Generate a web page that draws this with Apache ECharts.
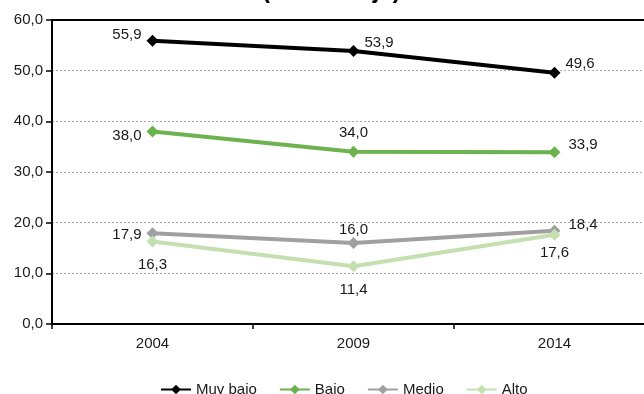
<!DOCTYPE html>
<html>
<head>
<meta charset="utf-8">
<script src="https://cdn.jsdelivr.net/npm/echarts@6/dist/echarts.min.js"></script>
<style>
  html, body { margin: 0; padding: 0; background: #fff; }
  #chart { width: 644px; height: 394px; }
</style>
</head>
<body>
<div id="chart"></div>
<script>
// Categories and series values
const years = ['2004', '2009', '2014'];
const muyBajo = [55.9, 53.9, 49.6];
const bajo = [38.0, 34.0, 33.9];
const medio = [17.9, 16.0, 18.4];
const alto = [16.3, 11.4, 17.6];
const seriesNames = ['Muy bajo', 'Bajo', 'Medio', 'Alto'];
const yTicks = { min: 0, max: 60, interval: 10 };

// Presentation: colours and where each value label sits next to its point
const seriesColors = ['#000000', '#6cb24e', '#a0a0a0', '#c4e0b0'];
const labelPlacement = [
  [['left', [0, -6]], ['right', [0, -8]], ['right', [0, -9]]],
  [['left', [0, 4]], ['top', [0, 0]], ['right', [3, -7]]],
  [['left', [0, 2]], ['top', [0, 5]], ['right', [3, -6]]],
  [['bottom', [0, 5]], ['bottom', [0, 5]], ['bottom', [0, 0]]]
];

const FONT = "'Liberation Sans', Arial, sans-serif";
const fmt = v => Number(v).toFixed(1).replace('.', ',');

const values = [muyBajo, bajo, medio, alto];

const series = values.map((vals, s) => ({
  name: seriesNames[s],
  type: 'line',
  data: vals.map((v, i) => ({
    value: v,
    label: { position: labelPlacement[s][i][0], offset: labelPlacement[s][i][1] }
  })),
  symbol: 'diamond',
  symbolSize: 12,
  showAllSymbol: true,
  color: seriesColors[s],
  lineStyle: { width: 4, color: seriesColors[s] },
  itemStyle: { color: seriesColors[s] },
  label: {
    show: true,
    formatter: p => fmt(p.value),
    fontFamily: FONT,
    fontSize: 15,
    color: '#1a1a1a',
    distance: 5
  },
  emphasis: { disabled: true },
  animation: false,
  z: 2 + s
}));

const chart = echarts.init(document.getElementById('chart'), null, { renderer: 'canvas' });
chart.setOption({
  backgroundColor: '#ffffff',
  animation: false,
  title: {
    text: '(Porcentaje)',
    left: 262,
    top: -21,
    padding: 0,
    textStyle: {
      fontFamily: "'Liberation Sans', Arial, sans-serif",
      fontWeight: 'bold',
      fontSize: 24,
      color: '#000'
    }
  },
  // the plot area runs a little past the right edge of the canvas
  grid: { left: 52, right: -11, top: 20, bottom: 70, containLabel: false, outerBoundsMode: 'none' },
  legend: {
    data: seriesNames,
    left: 155,
    top: 377,
    itemWidth: 30,
    itemHeight: 12,
    itemGap: 22,
    textStyle: { fontFamily: FONT, fontSize: 15, color: '#1a1a1a' }
  },
  xAxis: [
    {
      type: 'category',
      data: years,
      boundaryGap: true,
      axisLine: { show: true, lineStyle: { color: '#000', width: 2 } },
      axisTick: { show: true, length: 5, lineStyle: { color: '#000', width: 1.5 } },
      axisLabel: { fontFamily: FONT, fontSize: 15, color: '#1a1a1a', margin: 12 },
      splitLine: { show: false }
    },
    {
      type: 'category',
      data: years,
      position: 'top',
      axisLine: { show: true, lineStyle: { color: '#000', width: 2 } },
      axisTick: { show: false },
      axisLabel: { show: false },
      splitLine: { show: false }
    }
  ],
  yAxis: {
    type: 'value',
    min: yTicks.min,
    max: yTicks.max,
    interval: yTicks.interval,
    axisLine: { show: true, lineStyle: { color: '#000', width: 2 } },
    axisTick: { show: true, length: 6, lineStyle: { color: '#000', width: 1.5 } },
    axisLabel: { fontFamily: FONT, fontSize: 15, color: '#1a1a1a', margin: 9, formatter: v => fmt(v) },
    splitLine: { show: true, lineStyle: { color: '#aaaaaa', width: 1, type: [2, 2] } }
  },
  series: series
});
</script>
</body>
</html>
